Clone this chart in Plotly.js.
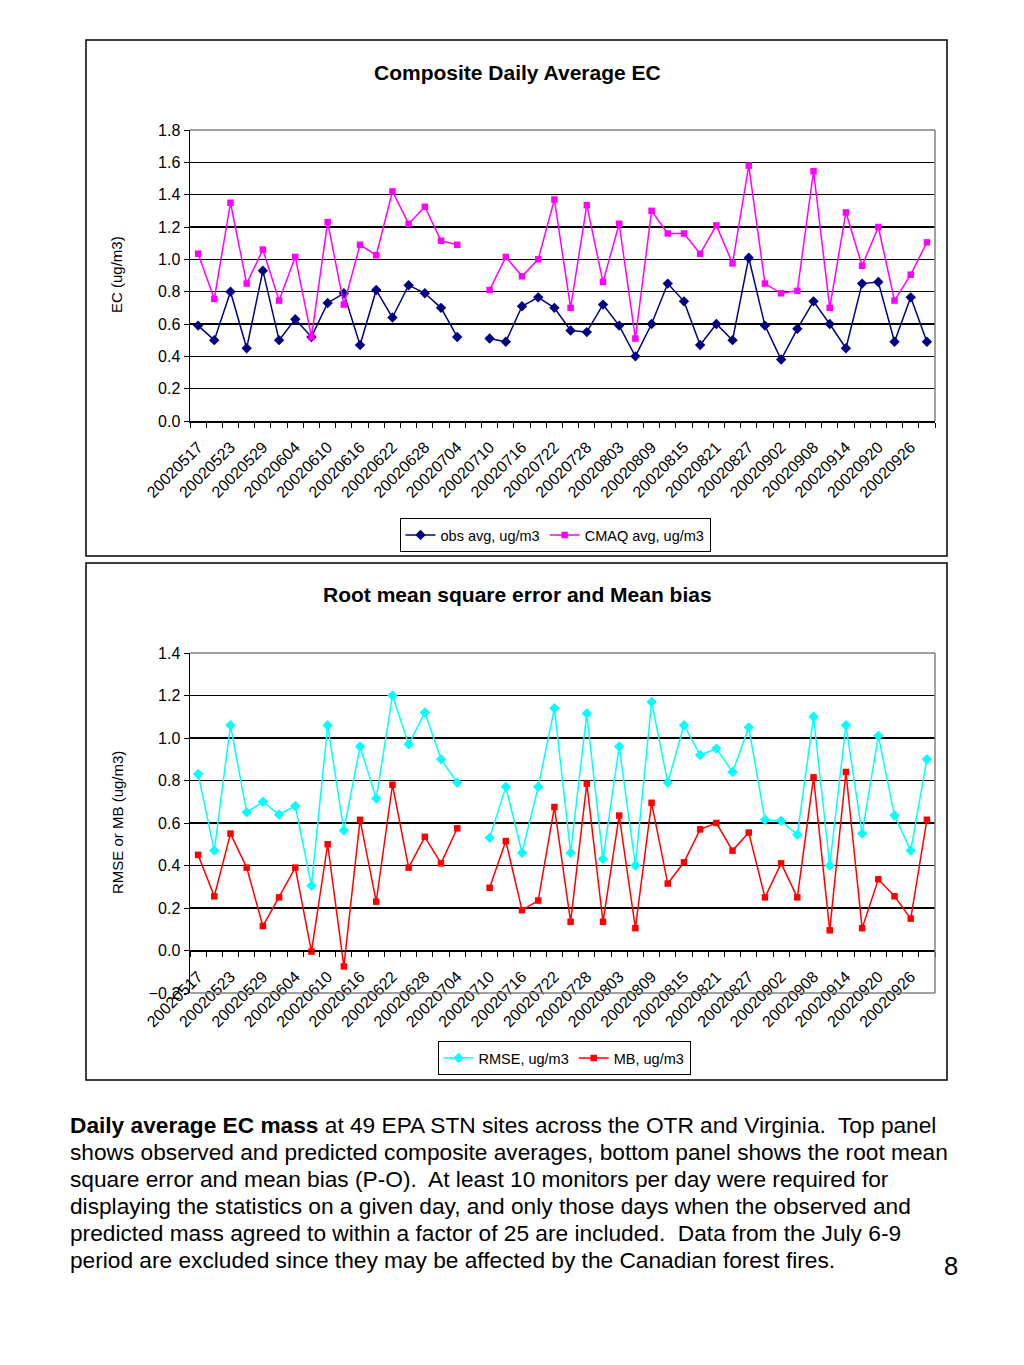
<!DOCTYPE html>
<html>
<head>
<meta charset="utf-8">
<script src="https://cdn.plot.ly/plotly-3.0.1.min.js"></script>
<style>
html,body{margin:0;padding:0;background:#fff;}
#chart{position:absolute;left:0;top:0;width:1024px;height:1365px;}
#caption{position:absolute;left:70px;top:1112px;font-family:'Liberation Sans',Arial,Helvetica,sans-serif;font-size:22.7px;line-height:27px;color:#000;white-space:nowrap;}
#pagenum{position:absolute;left:944px;top:1254px;font-family:'Liberation Sans',Arial,Helvetica,sans-serif;font-size:25.5px;line-height:25px;color:#000;}
</style>
</head>
<body>
<div id="chart"></div>
<div id="caption"><b>Daily average EC mass</b> at 49 EPA STN sites across the OTR and Virginia.&nbsp; Top panel<br>shows observed and predicted composite averages, bottom panel shows the root mean<br>square error and mean bias (P-O).&nbsp; At least 10 monitors per day were required for<br>displaying the statistics on a given day, and only those days when the observed and<br>predicted mass agreed to within a factor of 25 are included.&nbsp; Data from the July 6-9<br>period are excluded since they may be affected by the Canadian forest fires.</div>
<div id="pagenum">8</div>
<script>
// Sampling dates (every 3rd day); 20020707 excluded (no data)
const dates = [
  "20020517","20020520","20020523","20020526","20020529",
  "20020601","20020604","20020607","20020610","20020613","20020616","20020619","20020622","20020625","20020628",
  "20020701","20020704","20020707","20020710","20020713","20020716","20020719","20020722","20020725","20020728","20020731",
  "20020803","20020806","20020809","20020812","20020815","20020818","20020821","20020824","20020827","20020830",
  "20020902","20020905","20020908","20020911","20020914","20020917","20020920","20020923","20020926","20020929"
];
const tickLabels = [
  "20020517","20020523","20020529","20020604","20020610","20020616","20020622","20020628","20020704","20020710",
  "20020716","20020722","20020728","20020803","20020809","20020815","20020821","20020827","20020902","20020908",
  "20020914","20020920","20020926"
];
const obsAvg = [
  0.59,0.50,0.80,0.45,0.93,0.50,0.63,0.52,0.73,0.79,0.47,0.81,0.64,0.84,0.79,0.70,0.52,
  null,
  0.51,0.49,0.71,0.765,0.70,0.56,0.55,0.72,0.59,0.40,0.60,0.85,0.74,0.47,
  0.60,0.50,1.01,0.59,0.38,0.57,0.74,0.60,0.45,0.85,0.86,0.49,0.765,0.49
];
const cmaqAvg = [
  1.035,0.755,1.35,0.85,1.06,0.745,1.015,0.52,1.23,0.72,1.09,1.025,1.42,1.22,1.325,1.115,1.09,
  null,
  0.81,1.015,0.895,1.00,1.37,0.70,1.335,0.86,1.22,0.51,1.30,1.16,1.16,1.035,
  1.21,0.975,1.58,0.85,0.79,0.805,1.545,0.70,1.29,0.96,1.20,0.745,0.905,1.105
];
const rmse = [
  0.83,0.47,1.06,0.65,0.70,0.64,0.68,0.305,1.06,0.565,0.96,0.715,1.20,0.97,1.12,0.90,0.79,
  null,
  0.53,0.77,0.46,0.77,1.14,0.46,1.115,0.43,0.96,0.40,1.17,0.79,1.06,0.92,
  0.95,0.84,1.05,0.615,0.61,0.545,1.10,0.40,1.06,0.55,1.01,0.635,0.47,0.90
];
const meanBias = [
  0.45,0.255,0.55,0.39,0.115,0.25,0.39,-0.005,0.50,-0.075,0.615,0.23,0.78,0.39,0.535,0.41,0.575,
  null,
  0.295,0.515,0.19,0.235,0.675,0.135,0.785,0.135,0.635,0.105,0.695,0.315,0.415,0.57,
  0.60,0.47,0.555,0.25,0.41,0.25,0.815,0.095,0.84,0.105,0.335,0.255,0.15,0.615
];

const tickText = dates.map(d => tickLabels.indexOf(d) >= 0 ? d : "");
const FONT = "'Liberation Sans', Arial, Helvetica, sans-serif";
const W = 1024, H = 1365;
const px = x => x / W;
const py = y => 1 - y / H;

const xDom = [px(190), px(935)];
const yDomTop = [py(421), py(130)];
const yDomBot = [py(993), py(653)];
const zeroPos = yDomBot[0] + (0 - (-0.2)) / 1.6 * (yDomBot[1] - yDomBot[0]);

const traces = [
  {x: dates, y: obsAvg, name: "obs avg, ug/m3", type: "scatter", mode: "lines+markers",
   line: {color: "#000080", width: 1.5}, marker: {symbol: "diamond", size: 8, color: "#000080"},
   xaxis: "x", yaxis: "y", legend: "legend", connectgaps: false},
  {x: dates, y: cmaqAvg, name: "CMAQ avg, ug/m3", type: "scatter", mode: "lines+markers",
   line: {color: "#FF00FF", width: 1.5}, marker: {symbol: "square", size: 6.5, color: "#FF00FF"},
   xaxis: "x", yaxis: "y", legend: "legend", connectgaps: false},
  {x: dates, y: rmse, name: "RMSE, ug/m3", type: "scatter", mode: "lines+markers",
   line: {color: "#00FFFF", width: 1.5}, marker: {symbol: "diamond", size: 8, color: "#00FFFF"},
   xaxis: "x2", yaxis: "y2", legend: "legend2", connectgaps: false},
  {x: dates, y: meanBias, name: "MB, ug/m3", type: "scatter", mode: "lines+markers",
   line: {color: "#FF0000", width: 1.5}, marker: {symbol: "square", size: 6.5, color: "#FF0000"},
   xaxis: "x2", yaxis: "y2", legend: "legend2", connectgaps: false}
];

function xAxisCommon() {
  return {
    type: "category", categoryorder: "array", categoryarray: dates,
    range: [-0.5, dates.length - 0.5],
    tickmode: "array", tickvals: dates, ticktext: tickText, tickson: "boundaries",
    ticks: "outside", ticklen: 5, tickwidth: 1, tickcolor: "#000",
    tickangle: -45, tickfont: {family: FONT, size: 16, color: "#000"},
    ticklabelstandoff: 9,
    showline: true, linecolor: "#000", linewidth: 1.5,
    showgrid: false, zeroline: false, fixedrange: true
  };
}
function yAxisCommon(range) {
  return {
    range: range, tick0: 0, dtick: 0.2, tickformat: ".1f",
    ticks: "outside", ticklen: 5, tickwidth: 1, tickcolor: "#000",
    tickfont: {family: FONT, size: 16, color: "#000"},
    showline: true, linecolor: "#000", linewidth: 1.5,
    showgrid: true, gridcolor: "#000", gridwidth: 1.5,
    zeroline: false, fixedrange: true
  };
}

const xaxis1 = Object.assign(xAxisCommon(), {domain: xDom, anchor: "y"});
const xaxis2 = Object.assign(xAxisCommon(), {domain: xDom, anchor: "free", position: zeroPos});
const yaxis1 = Object.assign(yAxisCommon([0, 1.8]), {domain: yDomTop, anchor: "x"});
const yaxis2 = Object.assign(yAxisCommon([-0.2, 1.4]), {domain: yDomBot, anchor: "x2"});

const borderGray = {color: "#808080", width: 1.5};
const shapes = [
  // outer panel frames
  {type: "rect", xref: "paper", yref: "paper", x0: px(86), x1: px(947), y0: py(556), y1: py(40), line: {color: "#000", width: 1.5}},
  {type: "rect", xref: "paper", yref: "paper", x0: px(86), x1: px(947), y0: py(1080), y1: py(563), line: {color: "#000", width: 1.5}},
  // plot area borders (top / right), top chart
  {type: "line", xref: "x domain", yref: "y domain", x0: 0, x1: 1, y0: 1, y1: 1, line: borderGray, layer: "above"},
  {type: "line", xref: "x domain", yref: "y domain", x0: 1, x1: 1, y0: 0, y1: 1, line: borderGray, layer: "above"},
  // bottom chart (top / right / bottom)
  {type: "line", xref: "x2 domain", yref: "y2 domain", x0: 0, x1: 1, y0: 1, y1: 1, line: borderGray, layer: "above"},
  {type: "line", xref: "x2 domain", yref: "y2 domain", x0: 1, x1: 1, y0: 0, y1: 1, line: borderGray, layer: "above"},
  {type: "line", xref: "x2 domain", yref: "y2 domain", x0: 0, x1: 1, y0: 0, y1: 0, line: borderGray, layer: "above"}
];

const annotations = [
  {text: "<b>Composite Daily Average EC</b>", xref: "paper", yref: "paper", x: px(517), y: py(72),
   xanchor: "center", yanchor: "middle", showarrow: false, font: {family: FONT, size: 21, color: "#000"}},
  {text: "<b>Root mean square error and Mean bias</b>", xref: "paper", yref: "paper", x: px(517), y: py(594),
   xanchor: "center", yanchor: "middle", showarrow: false, font: {family: FONT, size: 21, color: "#000"}},
  {text: "EC (ug/m3)", xref: "paper", yref: "paper", x: px(117), y: py(275), textangle: -90,
   xanchor: "center", yanchor: "middle", showarrow: false, font: {family: FONT, size: 15, color: "#000"}},
  {text: "RMSE or MB (ug/m3)", xref: "paper", yref: "paper", x: px(117), y: py(823), textangle: -90,
   xanchor: "center", yanchor: "middle", showarrow: false, font: {family: FONT, size: 15, color: "#000"}}
];

const legendCommon = {
  orientation: "h", xanchor: "center", yanchor: "middle",
  bordercolor: "#000", borderwidth: 1, bgcolor: "#fff",
  font: {family: FONT, size: 14.5, color: "#000"}, itemwidth: 30, traceorder: "normal"
};

const layout = {
  width: W, height: H, autosize: false,
  margin: {l: 0, r: 0, t: 0, b: 0, pad: 0},
  paper_bgcolor: "#fff", plot_bgcolor: "#fff",
  font: {family: FONT, color: "#000"},
  showlegend: true,
  legend: Object.assign({}, legendCommon, {x: px(555), y: py(535)}),
  legend2: Object.assign({}, legendCommon, {x: px(564), y: py(1058)}),
  xaxis: xaxis1, yaxis: yaxis1, xaxis2: xaxis2, yaxis2: yaxis2,
  shapes: shapes, annotations: annotations
};

Plotly.newPlot("chart", traces, layout, {staticPlot: true, displayModeBar: false});
</script>
</body>
</html>
